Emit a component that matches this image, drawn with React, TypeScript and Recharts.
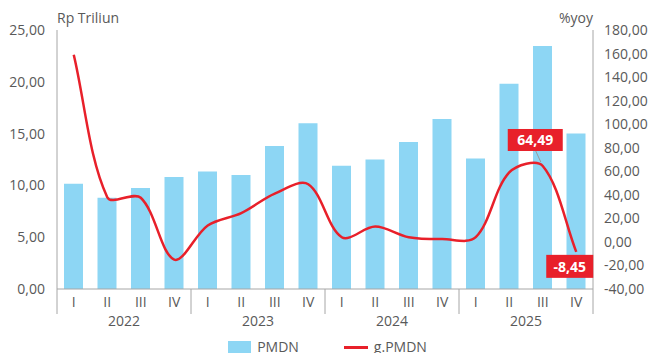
import {
  ComposedChart,
  Bar,
  Line,
  XAxis,
  YAxis,
  Legend,
  LabelList
} from 'recharts'

const quarters = ['I', 'II', 'III', 'IV', 'I', 'II', 'III', 'IV', 'I', 'II', 'III', 'IV', 'I', 'II', 'III', 'IV']
const years = ['2022', '2023', '2024', '2025']
const pmdn = [10.15, 8.8, 9.75, 10.8, 11.35, 11.0, 13.8, 16.0, 11.9, 12.5, 14.2, 16.4, 12.6, 19.8, 23.45, 15.0]
const gPmdn = [159, 38, 37.5, -15, 14, 24.5, 41, 49, 4, 13, 4, 2.4, 4, 59, 64.49, -8.45]
const leftTicks = [0, 5, 10, 15, 20, 25]
const rightTicks = [-40, -20, 0, 20, 40, 60, 80, 100, 120, 140, 160, 180]

const data = quarters.map((q, i) => ({
  q,
  year: years[Math.floor(i / 4)],
  PMDN: pmdn[i],
  'g.PMDN': gPmdn[i]
}))

const FONT = '"Open Sans", sans-serif'
const GREY = '#595959'
const AXIS = '#a6a6a6'
const BLUE = '#8dd6f4'
const RED = '#e8202a'
const BAND = 33.5

const fmt = (v: number) => v.toFixed(2).replace('.', ',')

const dist = (a: number[], b: number[]) => Math.hypot(b[0] - a[0], b[1] - a[1])

// spreadsheet-like smoothed line: bezier through the points, tangents weighted by chord length
function smoothCurve(context: any) {
  let pts: number[][] = []
  return {
    areaStart() {},
    areaEnd() {},
    lineStart() {
      pts = []
    },
    point(x: number, y: number) {
      pts.push([+x, +y])
    },
    lineEnd() {
      if (!pts.length) return
      context.moveTo(pts[0][0], pts[0][1])
      for (let i = 0; i < pts.length - 1; i++) {
        const p0 = pts[i - 1] || pts[i]
        const p1 = pts[i]
        const p2 = pts[i + 1]
        const p3 = pts[i + 2] || p2
        const d01 = dist(p0, p1)
        const d12 = dist(p1, p2)
        const d23 = dist(p2, p3)
        const f1 = d01 + d12 > 0 ? d12 / (d01 + d12) / 3 : 0
        const f2 = d12 + d23 > 0 ? d12 / (d12 + d23) / 3 : 0
        context.bezierCurveTo(
          p1[0] + (p2[0] - p0[0]) * f1,
          p1[1] + (p2[1] - p0[1]) * f1,
          p2[0] - (p3[0] - p1[0]) * f2,
          p2[1] - (p3[1] - p1[1]) * f2,
          p2[0],
          p2[1]
        )
      }
    }
  }
}

function QuarterTick(props: any) {
  const { x, payload } = props
  const i = payload.index
  const top = 289
  return (
    <g>
      <text x={x} y={top + 18} textAnchor="middle" fill={GREY} fontSize={14} fontFamily={FONT}>
        {payload.value}
      </text>
      {i % 4 === 0 && (
        <line x1={x - BAND / 2} x2={x - BAND / 2} y1={top} y2={top + 25} stroke={AXIS} />
      )}
      {i === quarters.length - 1 && (
        <line x1={x + BAND / 2} x2={x + BAND / 2} y1={top} y2={top + 25} stroke={AXIS} />
      )}
      {i % 4 === 1 && (
        <text x={x + BAND / 2} y={top + 37} textAnchor="middle" fill={GREY} fontSize={14} fontFamily={FONT}>
          {data[i].year}
        </text>
      )}
    </g>
  )
}

function PointLabel(props: any) {
  const { x, y, value, index } = props
  if (index === 14) {
    return (
      <g>
        <line x1={x - 7} y1={y - 15} x2={x - 2} y2={y - 4} stroke="#999" />
        <rect x={x - 35} y={y - 37} width={55} height={22} fill={RED} />
        <text x={x - 7.5} y={y - 20.5} textAnchor="middle" fill="#fff" fontSize={14} fontWeight={700} fontFamily={FONT}>
          {fmt(value)}
        </text>
      </g>
    )
  }
  if (index === 15) {
    return (
      <g>
        <rect x={x - 30} y={y + 3} width={47} height={23} fill={RED} />
        <text x={x - 6.5} y={y + 20} textAnchor="middle" fill="#fff" fontSize={14} fontWeight={700} fontFamily={FONT}>
          {fmt(value)}
        </text>
      </g>
    )
  }
  return null
}

function LegendContent() {
  return (
    <div style={{ display: 'flex', justifyContent: 'center', alignItems: 'center', fontFamily: FONT, fontSize: 14, color: GREY, lineHeight: '16px', paddingLeft: 6 }}>
      <span style={{ display: 'inline-block', width: 23, height: 12, background: BLUE, marginRight: 6 }} />
      <span style={{ marginRight: 45 }}>PMDN</span>
      <span style={{ display: 'inline-block', width: 24, height: 3, background: RED, marginRight: 6 }} />
      <span>g.PMDN</span>
    </div>
  )
}

export default function App() {
  return (
    <div style={{ position: 'absolute', left: 0, top: 0, width: 649, height: 353, background: '#fff' }}>
      <ComposedChart
        width={649}
        height={353}
        data={data}
        margin={{ top: 30, right: 0, bottom: 0, left: 0 }}
      >
        <XAxis
          dataKey="q"
          interval={0}
          tick={<QuarterTick />}
          tickLine={false}
          axisLine={{ stroke: AXIS }}
          height={50}
        />
        <YAxis
          yAxisId="left"
          width={57}
          domain={[0, 25]}
          ticks={leftTicks}
          tickFormatter={fmt}
          tickLine={false}
          axisLine={{ stroke: AXIS }}
          tick={{ fill: GREY, fontSize: 14, fontFamily: FONT }}
          tickMargin={6}
          label={{ value: 'Rp Triliun', content: () => (
            <text x={57} y={23} fill={GREY} fontSize={14} fontFamily={FONT}>Rp Triliun</text>
          ) }}
        />
        <YAxis
          yAxisId="right"
          orientation="right"
          width={56}
          domain={[-40, 180]}
          ticks={rightTicks}
          tickFormatter={fmt}
          tickLine={false}
          axisLine={{ stroke: AXIS }}
          tick={{ fill: GREY, fontSize: 14, fontFamily: FONT, textAnchor: 'start' }}
          tickMargin={5}
          label={{ value: '%yoy', content: () => (
            <text x={593} y={23} textAnchor="end" fill={GREY} fontSize={14} fontFamily={FONT}>%yoy</text>
          ) }}
        />
        <Legend verticalAlign="bottom" height={14} content={<LegendContent />} />
        <Bar yAxisId="left" dataKey="PMDN" fill={BLUE} barSize={19} isAnimationActive={false} />
        <Line
          yAxisId="right"
          dataKey="g.PMDN"
          type={smoothCurve as any}
          stroke={RED}
          strokeWidth={2.5}
          dot={false}
          isAnimationActive={false}
        >
          <LabelList dataKey="g.PMDN" content={<PointLabel />} />
        </Line>
      </ComposedChart>
    </div>
  )
}
